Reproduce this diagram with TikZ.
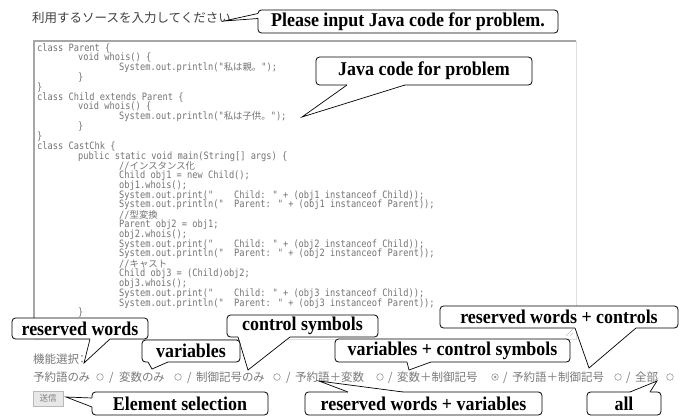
\documentclass[tikz,border=0pt]{standalone}
\usepackage{fontspec}
\setmainfont{Liberation Serif}
\newfontfamily\calloutfont[FakeStretch=0.92]{Liberation Serif}
\newfontfamily\jpfont{Noto Sans CJK JP}
\newfontfamily\jppfont[RawFeature=+palt]{Noto Sans CJK JP}
\newfontfamily\codefont[FakeStretch=0.86]{DejaVu Sans Mono}
\usetikzlibrary{calc}
\definecolor{codegray}{HTML}{747474}
\definecolor{uigray}{HTML}{7A7A7A}
\definecolor{titlegray}{HTML}{404040}
\definecolor{radiogray}{HTML}{9A9A9A}
\newcommand\jpc[1]{{\jpfont\fontsize{9.4}{9.4}\selectfont #1}}
\newcommand\calloutptr[4]{%
  \fill[white] (#1) -- (#2) -- (#3) -- ($(#3)+(#4)$) -- ($(#1)+(#4)$) -- cycle;
  \draw[ptrline] (#1) -- (#2) -- (#3);}
\tikzset{
  callout/.style={draw=black, line width=0.8pt, fill=white, rounded corners=3.5pt,
    inner sep=0pt, outer sep=0pt, text=black,
    font=\calloutfont\bfseries\fontsize{19.5}{19.5}\selectfont},
  ptrline/.style={draw=black, line width=0.7pt, line join=miter},
  code/.style={anchor=base west, inner sep=0pt, text=codegray,
    font=\codefont\fontsize{10.1}{10.1}\selectfont},
  ui/.style={anchor=base west, inner sep=0pt, text=uigray,
    font=\jppfont\fontsize{11.5}{11.5}\selectfont},
  radio/.style={circle, draw=radiogray, line width=0.6pt, fill=white,
    minimum size=6.6pt, inner sep=0pt},
}
\begin{document}
\begin{tikzpicture}[x=1pt,y=-1pt]
\useasboundingbox (0,0) rectangle (690,417);
\fill[white] (0,0) rectangle (690,417);

% title
\node[anchor=base west, inner sep=0pt, text=titlegray,
  font=\jpfont\fontsize{12.5}{12.5}\selectfont] (title) at (32,23) {利用するソースを入力してください};

% text area
\node[minimum width=542pt, minimum height=298pt, inner sep=0pt] (ta) at (305,190) {};
\draw[gray!25, line width=0.8pt] (ta.north east) -- (ta.south east) -- (ta.south west);
\draw[gray!70, line width=1.6pt] (ta.south west) -- (ta.north west) -- (ta.north east);
\draw[gray!50, line width=0.5pt] (566,336) -- (573,329) (570,336) -- (573,333);

% code
\node[code] (c1) at (37,51.2) {class Parent \{};
\node[code] (c2) at (78,61.0) {void whois() \{};
\node[code] (c3) at (119,70.8) {System.out.println("\jpc{私は親。}");};
\node[code] (c4) at (78,80.6) {\}};
\node[code] (c5) at (37,90.4) {\}};
\node[code] (c6) at (37,100.2) {class Child extends Parent \{};
\node[code] (c7) at (78,110.0) {void whois() \{};
\node[code] (c8) at (119,119.8) {System.out.println("\jpc{私は子供。}");};
\node[code] (c9) at (78,129.6) {\}};
\node[code] (c10) at (37,139.4) {\}};
\node[code] (c11) at (37,149.2) {class CastChk \{};
\node[code] (c12) at (78,159.0) {public static void main(String[] args) \{};
\node[code] (c13) at (119,169.2) {//\jpc{インスタンス化}};
\node[code] (c14) at (119,178.6) {Child obj1 = new Child();};
\node[code] (c15) at (119,188.4) {obj1.whois();};
\node[code] (c16) at (119,198.2) {System.out.print("\ \ \ \ Child: " + (obj1 instanceof Child));};
\node[code] (c17) at (119,207.8) {System.out.println("\ \ Parent: " + (obj1 instanceof Parent));};
\node[code] (c18) at (119,218.2) {//\jpc{型変換}};
\node[code] (c19) at (119,227.6) {Parent obj2 = obj1;};
\node[code] (c20) at (119,237.4) {obj2.whois();};
\node[code] (c21) at (119,247.2) {System.out.print("\ \ \ \ Child: " + (obj2 instanceof Child));};
\node[code] (c22) at (119,256.8) {System.out.println("\ \ Parent: " + (obj2 instanceof Parent));};
\node[code] (c23) at (119,267.2) {//\jpc{キャスト}};
\node[code] (c24) at (119,276.6) {Child obj3 = (Child)obj2;};
\node[code] (c25) at (119,286.4) {obj3.whois();};
\node[code] (c26) at (119,296.2) {System.out.print("\ \ \ \ Child: " + (obj3 instanceof Child));};
\node[code] (c27) at (119,306.0) {System.out.println("\ \ Parent: " + (obj3 instanceof Parent));};
\node[code] (c28) at (78,315.8) {\}};

% selection line
\node[ui] (sel) at (33,363.5) {機能選択：};
\node[ui] (o1) at (33,381.5) {予約語のみ};
\node[radio] (r1) at (100,377) {};
\node[ui] (s1) at (109,381.5) {/};
\node[ui] (o2) at (119,381.5) {変数のみ};
\node[radio] (r2) at (178,377) {};
\node[ui] (s2) at (187,381.5) {/};
\node[ui] (o3) at (196,381.5) {制御記号のみ};
\node[radio] (r3) at (277,377) {};
\node[ui] (s3) at (286,381.5) {/};
\node[ui] (o4) at (295,381.5) {予約語＋変数};
\node[radio] (r4) at (380,377) {};
\node[ui] (s4) at (388,381.5) {/};
\node[ui] (o5) at (397,381.5) {変数＋制御記号};
\node[radio] (r5) at (495,377) {};
\fill[radiogray] (r5.center) circle (1.5);
\node[ui] (s5) at (503,381.5) {/};
\node[ui] (o6) at (512,381.5) {予約語＋制御記号};
\node[radio] (r6) at (618,377) {};
\node[ui] (s6) at (626,381.5) {/};
\node[ui] (o7) at (635,381.5) {全部};
\node[radio] (r7) at (670,377) {};

% button
\node[draw=gray!55, fill=gray!18, line width=0.8pt, minimum width=30pt, minimum height=15pt,
  inner sep=0pt, text=gray, font=\jpfont\fontsize{8.5}{8.5}\selectfont] (btn) at (48,398.5) {送信};

% callouts
\node[callout, minimum width=300pt, minimum height=23pt] (P) at (408,21.5) {Please input Java code for problem.};
\coordinate (Ptip) at (224,21);
\coordinate (Pb1) at ($(P.north west)+(0,3.5)$);
\coordinate (Pb2) at ($(P.north west)+(0,8.5)$);
\calloutptr{Pb1}{Ptip}{Pb2}{1.5,0}

\node[callout, minimum width=216pt, minimum height=28pt] (J) at (424,71) {Java code for problem};
\coordinate (Jtip) at (302,117);
\coordinate (Jb1) at ($(J.south west)+(31,0)$);
\coordinate (Jb2) at ($(J.south west)+(89,0)$);
\calloutptr{Jb1}{Jtip}{Jb2}{0,-1.5}

\node[callout, minimum width=238pt, minimum height=22pt] (RC) at (559,317) {reserved words + controls};
\coordinate (RCtip) at (589,368);
\coordinate (RCb1) at ($(RC.south west)+(135,0)$);
\coordinate (RCb2) at ($(RC.south west)+(196,0)$);
\calloutptr{RCb1}{RCtip}{RCb2}{0,-1.5}

\node[callout, minimum width=151pt, minimum height=22pt] (C) at (302.5,326) {control symbols};
\coordinate (Ctip) at (248,370);
\coordinate (Cb1) at ($(C.south west)+(11,0)$);
\coordinate (Cb2) at ($(C.south west)+(63,0)$);
\calloutptr{Cb1}{Ctip}{Cb2}{0,-1.5}

\node[callout, minimum width=136pt, minimum height=21pt] (R) at (80,328.5) {reserved words};
\coordinate (Rtip) at (84,363);
\coordinate (Rb1) at ($(R.south west)+(78,0)$);
\coordinate (Rb2) at ($(R.south west)+(98,0)$);
\calloutptr{Rb1}{Rtip}{Rb2}{0,-1.5}

\node[callout, minimum width=98pt, minimum height=22pt] (V) at (191,351) {variables};
\coordinate (Vtip) at (152,369);
\coordinate (Vb1) at ($(V.south west)+(6,0)$);
\coordinate (Vb2) at ($(V.south west)+(26,0)$);
\calloutptr{Vb1}{Vtip}{Vb2}{0,-1.5}

\node[callout, minimum width=235pt, minimum height=23pt] (VC) at (452.5,350.5) {variables + control symbols};
\coordinate (VCtip) at (409,370);
\coordinate (VCb1) at ($(VC.south west)+(72,0)$);
\coordinate (VCb2) at ($(VC.south west)+(96,0)$);
\calloutptr{VCb1}{VCtip}{VCb2}{0,-1.5}

\node[callout, minimum width=176pt, minimum height=23pt] (E) at (180,403.5) {Element selection};
\coordinate (Etip) at (66,397);
\coordinate (Eb1) at ($(E.north west)+(0,6)$);
\coordinate (Eb2) at ($(E.north west)+(0,15)$);
\calloutptr{Eb1}{Etip}{Eb2}{1.5,0}

\node[callout, minimum width=237pt, minimum height=23pt] (RV) at (423.5,403.5) {reserved words + variables};
\coordinate (RVtip) at (319,381);
\coordinate (RVb1) at ($(RV.north west)+(43,0)$);
\coordinate (RVb2) at ($(RV.north west)+(98,0)$);
\calloutptr{RVb1}{RVtip}{RVb2}{0,1.5}

\node[callout, minimum width=74pt, minimum height=23pt] (A) at (624,403.5) {all};
\coordinate (Atip) at (657,381);
\coordinate (Ab1) at ($(A.north west)+(43,0)$);
\coordinate (Ab2) at ($(A.north west)+(63,0)$);
\calloutptr{Ab1}{Atip}{Ab2}{0,1.5}
\end{tikzpicture}
\end{document}
